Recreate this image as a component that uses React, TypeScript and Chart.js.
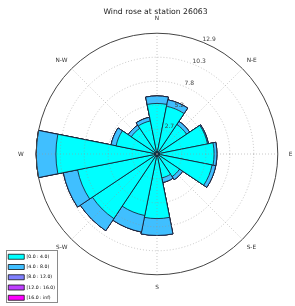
import { useEffect, useRef } from 'react';
import { Chart, registerables } from 'chart.js';

Chart.register(...registerables);

// 16 compass directions, clockwise from North
const directions = ['N', 'NNE', 'NE', 'ENE', 'E', 'ESE', 'SE', 'SSE', 'S', 'SSW', 'SW', 'WSW', 'W', 'WNW', 'NW', 'NNW'];

// frequency per speed bin (same order as directions)
const bin0 = [5.4, 5.2, 3.8, 5.5, 6.1, 6.0, 2.9, 2.6, 6.9, 6.7, 8.3, 8.65, 10.8, 4.45, 3.3, 3.6];
const bin1 = [0.8, 0.7, 0.4, 0.1, 0.3, 0.4, 0.4, 0.5, 1.8, 1.8, 1.55, 1.55, 2.1, 0.55, 0.4, 0.4];
const bin2 = [0, 0, 0, 0, 0, 0, 0, 0, 0, 0, 0, 0, 0, 0, 0, 0];
const bin3 = [0, 0, 0, 0, 0, 0, 0, 0, 0, 0, 0, 0, 0, 0, 0, 0];
const bin4 = [0, 0, 0, 0, 0, 0, 0, 0, 0, 0, 0, 0, 0, 0, 0, 0];

const binLabels = ['[0.0 : 4.0)', '[4.0 : 8.0)', '[8.0 : 12.0)', '[12.0 : 16.0)', '[16.0 : inf)'];
const binColors = ['rgb(0,255,255)', 'rgb(64,191,255)', 'rgb(128,128,255)', 'rgb(191,64,255)', 'rgb(255,0,255)'];

// angular labels, starting at 22.5° and stepping 22.5° clockwise
const compassLabels = ['', 'N-E', '', 'E', '', 'S-E', '', 'S', '', 'S-W', '', 'W', '', 'N-W', '', 'N'];

const tickValues = [0, 2.66, 5.22, 7.78, 10.34, 12.9];
const tickLabels = ['', '2.7', '5.2', '7.8', '10.3', '12.9'];
const rMax = 12.9;

const labelPad: Record<string, number> = { N: 11, E: 11, S: 9.5, W: 12.5 };

const FONT = 'DejaVu Sans';

export default function App() {
  const ref = useRef<HTMLCanvasElement | null>(null);

  useEffect(() => {
    if (!ref.current) return;
    const bins = [bin0, bin1, bin2, bin3, bin4];
    const cumulative = bins.map((_, b) =>
      directions.map((_, d) => bins.slice(0, b + 1).reduce((s, arr) => s + arr[d], 0))
    );
    // arcs start at 22.5°: a zero-size filler, then bars from NE round to NNE
    const reorder = (arr: number[]) => [0, ...arr.slice(2), ...arr.slice(0, 2)];

    const datasets = cumulative.map((vals, b) => ({
      label: binLabels[b],
      data: reorder(vals),
      backgroundColor: binColors[b],
      borderColor: '#15152a',
      borderWidth: (c: any) => (c.dataIndex === 0 ? 0 : 0.8),
      angle: (c: any) => (c.dataIndex === 0 ? 11.25 : 22.5),
    }));

    const decorations = {
      id: 'decorations',
      afterLayout(chart: any) {
        const lg = chart.legend;
        if (!lg) return;
        lg.left = 3;
        lg.top = 249;
        lg.bottom = 306;
        lg.right = 90;
      },
      afterDraw(chart: any) {
        const ctx = chart.ctx;
        // horizontal radial tick labels
        const s = chart.scales.r;
        const a = (24.5 * Math.PI) / 180;
        ctx.save();
        ctx.font = `6px "${FONT}"`;
        ctx.fillStyle = '#444';
        ctx.textAlign = 'center';
        ctx.textBaseline = 'middle';
        tickValues.forEach((v, i) => {
          if (!tickLabels[i]) return;
          const d = s.getDistanceFromCenterForValue(v) + 5;
          ctx.fillText(tickLabels[i], s.xCenter + d * Math.sin(a), s.yCenter - d * Math.cos(a));
        });
        ctx.restore();
        // legend frame
        const lg = chart.legend;
        if (!lg || !lg.legendHitBoxes || !lg.legendHitBoxes.length) return;
        const hb = lg.legendHitBoxes;
        const l = Math.min(...hb.map((h: any) => h.left));
        const t = Math.min(...hb.map((h: any) => h.top));
        const r = Math.max(...hb.map((h: any) => h.left + h.width));
        const bt = Math.max(...hb.map((h: any) => h.top + h.height));
        ctx.save();
        ctx.strokeStyle = '#8a8a8a';
        ctx.lineWidth = 1;
        ctx.strokeRect(Math.round(l - 2) + 0.5, Math.round(t - 4) + 0.5, Math.round(r - l + 4), Math.round(bt - t + 6));
        ctx.restore();
      },
    };

    const chart = new Chart(ref.current, {
      type: 'polarArea',
      data: { labels: compassLabels, datasets },
      plugins: [decorations],
      options: {
        animation: false,
        responsive: false,
        events: [],
        layout: { padding: { left: 16, right: -8, top: 0, bottom: 12 } },
        scales: {
          r: {
            type: 'radialLinear',
            startAngle: 22.5 + 0.001,
            min: 0,
            max: rMax,
            afterBuildTicks: (scale: any) => {
              scale.ticks = tickValues.map((v) => ({ value: v }));
            },
            ticks: {
              display: false,
              callback: (_v: any, i: number) => tickLabels[i],
            },
            grid: {
              z: 1,
              circular: true,
              color: (c: any) => (c.index === tickValues.length - 1 ? '#444' : 'rgba(150,150,150,0.75)'),
              lineWidth: (c: any) => (c.index === tickValues.length - 1 ? 1 : 0.7),
            },
            border: {
              dash: (c: any) => (c.index === tickValues.length - 1 ? [] : [1, 2]),
            },
            angleLines: {
              display: true,
              color: 'rgba(150,150,150,0.75)',
              lineWidth: (c: any) => (c.index % 2 === 1 ? 0.7 : 0),
              borderDash: [1, 2],
            },
            pointLabels: {
              display: true,
              color: '#333',
              font: { family: FONT, size: 5.8 },
              padding: (c: any) => labelPad[c.label] ?? 6,
            },
          },
        },
        plugins: {
          tooltip: { enabled: false },
          title: {
            display: true,
            text: 'Wind rose at station 26063',
            color: '#222',
            font: { family: FONT, size: 7.7, weight: 'normal' },
            padding: { top: 7.7, bottom: -3.94 },
            fullSize: false,
          },
          legend: {
            display: true,
            position: 'chartArea',
            align: 'start',
            labels: {
              boxWidth: 16,
              boxHeight: 5,
              padding: 5.25,
              color: '#333',
              font: { family: FONT, size: 4.6 },
              generateLabels: () =>
                binLabels.map((text, i) => ({
                  text,
                  fillStyle: binColors[i],
                  strokeStyle: '#111',
                  lineWidth: 0.8,
                  hidden: false,
                  datasetIndex: i,
                })),
            },
          },
        },
      } as any,
    });
    return () => chart.destroy();
  }, []);

  return (
    <div style={{ position: 'fixed', left: 0, top: 0, width: 295, height: 306, background: '#fff' }}>
      <canvas ref={ref} width={295} height={306} style={{ display: 'block' }} />
    </div>
  );
}
